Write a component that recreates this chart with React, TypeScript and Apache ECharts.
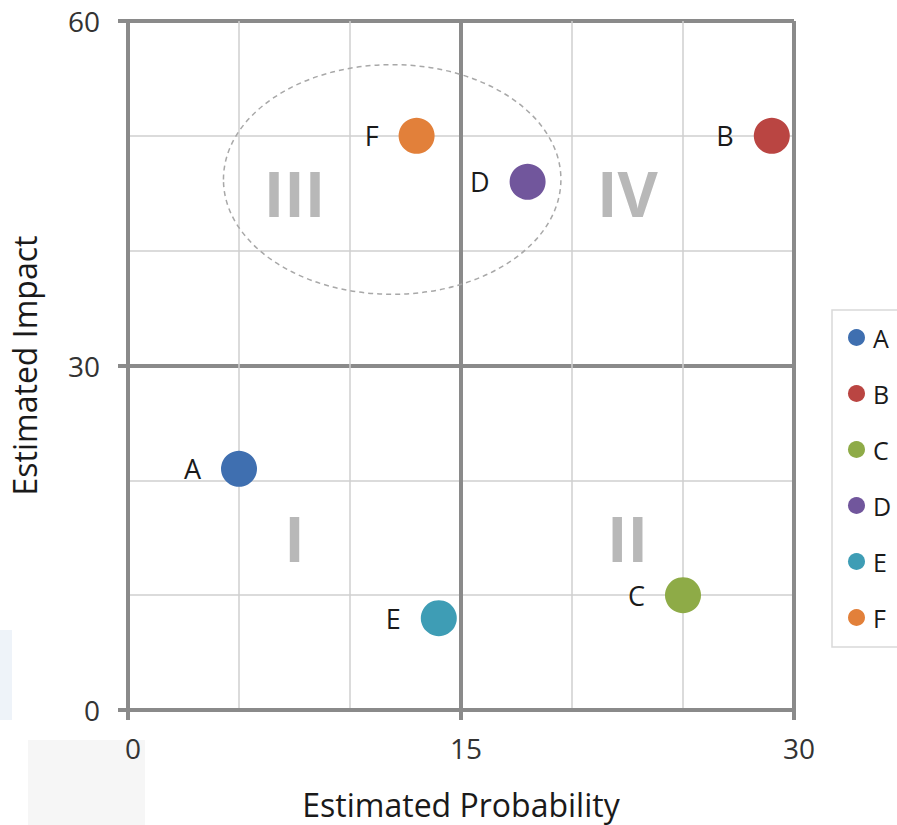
import React, { useEffect, useRef } from "react";
import * as echarts from "echarts";

const seriesNames = ["A", "B", "C", "D", "E", "F"];
const probability = [5, 29, 25, 18, 14, 13];
const impact = [21, 50, 10, 46, 8, 50];
const colors = ["#3F6FB0", "#BA4542", "#8EAB47", "#71569C", "#3E9DB5", "#E2803A"];
const quadrantLabels = ["I", "II", "III", "IV"];
const quadrantX = [7.5, 22.5, 7.5, 22.5];
const quadrantY = [15, 15, 45, 45];
// ellipse: centerX, centerY, radiusX, radiusY (data units)
const ellipseData = [[11.9, 46.2, 7.6, 10]];
const xTicks = [0, 15, 30];
const yTicks = [0, 30, 60];

const FONT = "'Open Sans', 'Noto Sans', sans-serif";

export default function App() {
  const ref = useRef<HTMLDivElement>(null);
  useEffect(() => {
    document.body.style.margin = "0";
    const chart = echarts.init(ref.current!, null, { renderer: "svg" });
    const pointSeries = seriesNames.map((name, i) => ({
      name,
      type: "scatter",
      symbol: "circle",
      symbolSize: 36,
      itemStyle: { color: colors[i], opacity: 1 },
      label: {
        show: true,
        position: "left",
        distance: 20,
        formatter: name,
        color: "#1a1a1a",
        fontSize: 27,
        fontFamily: FONT,
      },
      data: [[probability[i], impact[i]]],
      z: 5,
    }));
    chart.setOption({
      animation: false,
      textStyle: { fontFamily: FONT },
      grid: { left: 128, top: 21, right: 103, bottom: 113 },
      graphic: [
        { type: "rect", shape: { x: 0, y: 630, width: 12, height: 90 }, style: { fill: "#EEF3F9" }, z: -10 },
        { type: "rect", shape: { x: 28, y: 740, width: 117, height: 85 }, style: { fill: "#F6F6F6" }, z: -10 },
      ],
      legend: {
        orient: "vertical",
        left: 832,
        top: 310,
        data: seriesNames,
        icon: "circle",
        itemWidth: 17,
        itemHeight: 17,
        itemGap: 31,
        padding: [15, 30, 17, 16],
        borderColor: "#D9D9D9",
        borderWidth: 1.5,
        textStyle: { fontSize: 25, color: "#1a1a1a", fontFamily: FONT, padding: [0, 0, 0, 3] },
      },
      xAxis: {
        type: "value",
        min: xTicks[0],
        max: xTicks[2],
        interval: 15,
        name: "Estimated Probability",
        nameLocation: "middle",
        nameGap: 78,
        nameTextStyle: { fontSize: 32, color: "#1a1a1a", fontFamily: FONT },
        axisLine: { show: true, lineStyle: { color: "#8A8A8A", width: 4 } },
        axisTick: { show: true, length: 10, lineStyle: { color: "#8A8A8A", width: 4 } },
        axisLabel: { fontSize: 28, color: "#333", margin: 24, fontFamily: FONT, padding: [0, 0, 0, 10] },
        splitLine: { show: true, lineStyle: { color: "#8A8A8A", width: 4 } },
        minorTick: { show: false, splitNumber: 3 },
        minorSplitLine: { show: true, lineStyle: { color: "#CFCFCF", width: 1.5 } },
      },
      yAxis: {
        type: "value",
        min: yTicks[0],
        max: yTicks[2],
        interval: 30,
        name: "Estimated Impact",
        nameLocation: "middle",
        nameGap: 88,
        nameTextStyle: { fontSize: 32, color: "#1a1a1a", fontFamily: FONT },
        axisLine: { show: true, lineStyle: { color: "#8A8A8A", width: 4 } },
        axisTick: { show: true, length: 10, lineStyle: { color: "#8A8A8A", width: 4 } },
        axisLabel: { fontSize: 28, color: "#333", margin: 28, fontFamily: FONT },
        splitLine: { show: true, lineStyle: { color: "#8A8A8A", width: 4 } },
        minorTick: { show: false, splitNumber: 3 },
        minorSplitLine: { show: true, lineStyle: { color: "#CFCFCF", width: 1.5 } },
      },
      series: [
        {
          name: "quadrants",
          type: "scatter",
          symbolSize: 0,
          silent: true,
          label: {
            show: true,
            position: "inside",
            formatter: (p: any) => quadrantLabels[p.dataIndex],
            fontSize: 62,
            fontWeight: "bold",
            color: "#A6A6A6",
            fontFamily: FONT,
          },
          data: quadrantX.map((x, i) => [x, quadrantY[i]]),
          z: 2,
        },
        {
          name: "cluster",
          type: "custom",
          silent: true,
          renderItem: (params: any, api: any) => {
            const c = api.coord([api.value(0), api.value(1)]);
            const s = api.size([api.value(2), api.value(3)]);
            return {
              type: "ellipse",
              shape: { cx: c[0], cy: c[1], rx: s[0], ry: s[1] },
              style: { fill: "none", stroke: "#A8A8A8", lineWidth: 1.5, lineDash: [5, 4] },
            };
          },
          data: ellipseData,
          z: 3,
        },
        ...pointSeries,
      ],
    });
    return () => chart.dispose();
  }, []);
  return <div ref={ref} style={{ width: 897, height: 825 }} />;
}
